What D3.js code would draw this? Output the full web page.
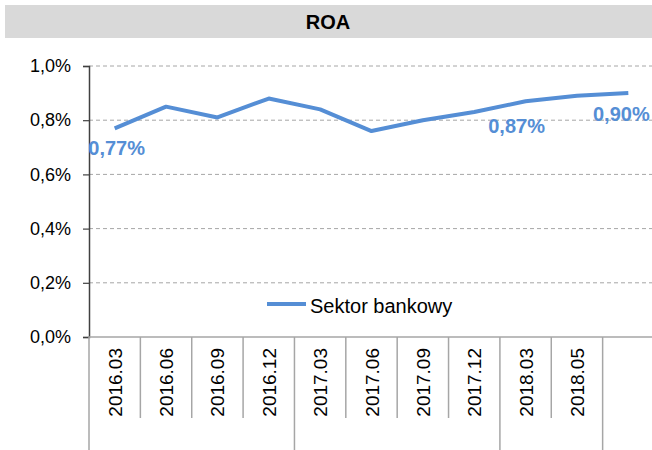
<!DOCTYPE html>
<html>
<head>
<meta charset="utf-8">
<script src="https://cdn.jsdelivr.net/npm/d3@7"></script>
<style>
  html, body { margin: 0; padding: 0; background: #fff; }
  svg { display: block; font-family: "Liberation Sans", Arial, sans-serif; }
</style>
</head>
<body>
<svg id="chart" width="652" height="450"></svg>
<script>
// ---- data ----
const title = "ROA";
const categories = ["2016.03","2016.06","2016.09","2016.12","2017.03","2017.06","2017.09","2017.12","2018.03","2018.05",""];
const seriesName = "Sektor bankowy";
const roaValues = [0.77, 0.85, 0.81, 0.88, 0.84, 0.76, 0.80, 0.83, 0.87, 0.89, 0.90];
const yTicks = [0, 0.2, 0.4, 0.6, 0.8, 1.0];
const groupSizes = [4, 4, 2, 1];          // 2016, 2017, 2018, (last)
const labeledPoints = [0, 8, 10];

(function () {
// ---- layout ----
const svg = d3.select("#chart");
const pLeft = 89, pRight = 654, pTop = 66, pBottom = 337;
const x = d3.scaleBand().domain(categories.map((c, i) => i)).range([pLeft, pRight]).padding(0);
const y = d3.scaleLinear().domain([0, 1.0]).range([pBottom, pTop]);
const blue = "#558ed5";
const fmt = v => d3.format(".2f")(v).replace(".", ",") + "%";
const fmtTick = v => d3.format(".1f")(v).replace(".", ",") + "%";

// title band
svg.append("rect").attr("x", 5).attr("y", 5).attr("width", 647).attr("height", 33).attr("fill", "#d9d9d9");
svg.append("text").attr("x", 328).attr("y", 29).attr("text-anchor", "middle")
  .attr("font-size", 20).attr("font-weight", "bold").attr("fill", "#000").text(title);

// gridlines
svg.append("g").selectAll("line").data(yTicks.filter(t => t > 0)).join("line")
  .attr("x1", pLeft).attr("x2", pRight)
  .attr("y1", d => y(d)).attr("y2", d => y(d))
  .attr("stroke", "#a6a6a6").attr("stroke-width", 1).attr("stroke-dasharray", "4,3");

// y axis
const yAxis = d3.axisLeft(y).tickValues(yTicks).tickFormat(fmtTick).tickSize(6).tickPadding(12);
const yg = svg.append("g").attr("transform", `translate(${pLeft},0)`).call(yAxis);
yg.select(".domain").attr("stroke", "#404040").attr("stroke-width", 1.5);
yg.selectAll(".tick line").attr("stroke", "#404040").attr("stroke-width", 1.2);
yg.selectAll(".tick text").attr("font-size", 18).attr("fill", "#000")
  .attr("font-family", "Liberation Sans, Arial, sans-serif");

// x axis line
svg.append("line").attr("x1", pLeft).attr("x2", pRight).attr("y1", pBottom).attr("y2", pBottom)
  .attr("stroke", "#a6a6a6").attr("stroke-width", 1.5);

// category separators
const boundaries = d3.range(categories.length + 1).map(i => pLeft + i * x.bandwidth());
const groupEdges = new Set([0]);
let acc = 0;
groupSizes.forEach(s => { acc += s; groupEdges.add(acc); });
svg.append("g").selectAll("line").data(boundaries.map((b, i) => ({ b, i }))).join("line")
  .attr("x1", d => d.b).attr("x2", d => d.b)
  .attr("y1", pBottom).attr("y2", d => groupEdges.has(d.i) ? 450 : 418)
  .attr("stroke", "#a6a6a6").attr("stroke-width", 1.5);

// x labels
svg.append("g").selectAll("text").data(categories.map((c, i) => ({ c, i })).filter(d => d.c)).join("text")
  .attr("transform", d => `translate(${x(d.i) + x.bandwidth() / 2 + 7},348) rotate(-90)`)
  .attr("text-anchor", "end").attr("font-size", 19).attr("fill", "#000").text(d => d.c);

// line
const line = d3.line().x((d, i) => x(i) + x.bandwidth() / 2).y(d => y(d));
svg.append("path").datum(roaValues).attr("d", line)
  .attr("fill", "none").attr("stroke", blue).attr("stroke-width", 4).attr("stroke-linejoin", "round");

// data labels
const labelOffsets = { 0: [2, 27], 8: [-9, 32], 10: [-7, 28] };
svg.append("g").selectAll("text").data(labeledPoints).join("text")
  .attr("x", i => x(i) + x.bandwidth() / 2 + labelOffsets[i][0])
  .attr("y", i => y(roaValues[i]) + labelOffsets[i][1])
  .attr("text-anchor", "middle").attr("font-size", 20).attr("font-weight", "bold").attr("fill", blue)
  .text(i => fmt(roaValues[i]));

// legend
const lg = svg.append("g");
lg.append("line").attr("x1", 267).attr("x2", 306).attr("y1", 304).attr("y2", 304)
  .attr("stroke", blue).attr("stroke-width", 4);
lg.append("text").attr("x", 310).attr("y", 313).attr("font-size", 20).attr("fill", "#000").text(seriesName);
})();
</script>
</body>
</html>
